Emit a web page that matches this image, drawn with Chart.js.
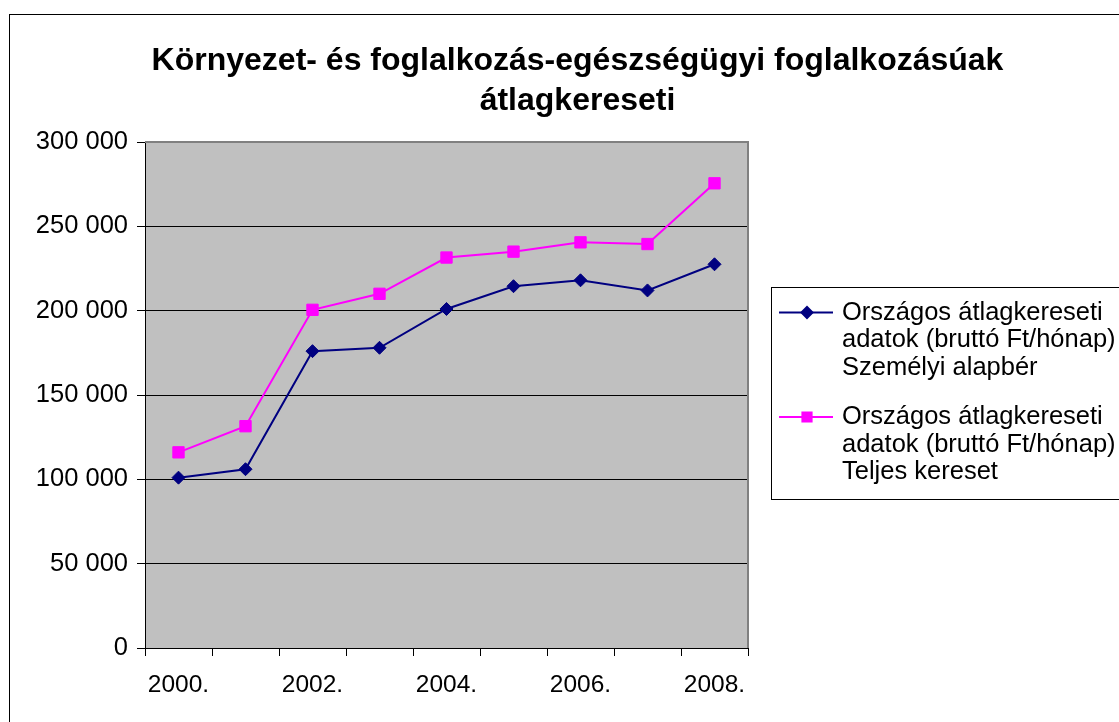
<!DOCTYPE html>
<html>
<head>
<meta charset="utf-8">
<script src="https://cdn.jsdelivr.net/npm/chart.js@4"></script>
<style>
  html, body { margin: 0; padding: 0; background: #fff; overflow: hidden; }
  canvas { display: block; }
</style>
</head>
<body>
<canvas id="chart" width="1119" height="722"></canvas>
<script>
// ---------- Data ----------
const years = ['2000.', '2001.', '2002.', '2003.', '2004.', '2005.', '2006.', '2007.', '2008.'];
const alapber = [101000, 106000, 176000, 178000, 201000, 214500, 218000, 212000, 227500];
const teljesKereset = [116000, 131500, 200500, 210000, 231500, 235000, 240500, 239500, 275500];
const seriesNames = [
    ['Országos átlagkereseti', 'adatok (bruttó Ft/hónap)', 'Személyi alapbér'],
    ['Országos átlagkereseti', 'adatok (bruttó Ft/hónap)', 'Teljes kereset']
];
const titleLines = ['Környezet- és foglalkozás-egészségügyi foglalkozásúak', 'átlagkereseti'];

const FONT = "Arial, 'Liberation Sans', sans-serif";
Chart.defaults.font.family = FONT;
Chart.defaults.color = '#000';

// thousands separated by a space, like "300 000"
function fmt(v) {
    return String(v).replace(/\B(?=(\d{3})+(?!\d))/g, ' ');
}

// ---------- Background, frame and plot area ----------
const framePlugin = {
    id: 'frame',
    beforeDraw(chart) {
        const { ctx, chartArea: a } = chart;
        ctx.save();
        ctx.fillStyle = '#fff';
        ctx.fillRect(0, 0, chart.width, chart.height);
        ctx.strokeStyle = '#000';
        ctx.lineWidth = 1;
        ctx.strokeRect(9.5, 14.5, 2000, 2000);
        ctx.fillStyle = '#c0c0c0';
        ctx.fillRect(a.left, a.top, a.right - a.left, a.bottom - a.top);
        ctx.restore();
    },
    beforeDatasetsDraw(chart) {
        const { ctx, chartArea: a } = chart;
        ctx.save();
        ctx.strokeStyle = '#808080';
        ctx.lineWidth = 2;
        ctx.beginPath();
        ctx.moveTo(a.left, a.top);
        ctx.lineTo(a.right, a.top);
        ctx.lineTo(a.right, a.bottom);
        ctx.stroke();
        ctx.restore();
    }
};

// ---------- Legend drawn on the right, multi-line labels ----------
const legendPlugin = {
    id: 'sideLegend',
    afterDraw(chart) {
        const ctx = chart.ctx;
        const boxLeft = 771.5, boxTop = 287.5, boxBottom = 499.5;
        const itemY = [312.5, 417];
        const lineGap = 27.5;
        ctx.save();
        ctx.strokeStyle = '#000';
        ctx.lineWidth = 1;
        ctx.strokeRect(boxLeft, boxTop, 600, boxBottom - boxTop);

        chart.data.datasets.forEach((ds, i) => {
            const y = itemY[i];
            ctx.strokeStyle = ds.borderColor;
            ctx.lineWidth = 2;
            ctx.beginPath();
            ctx.moveTo(779, y);
            ctx.lineTo(833, y);
            ctx.stroke();
            ctx.fillStyle = ds.backgroundColor;
            Chart.helpers.drawPoint(ctx, {
                pointStyle: ds.pointStyle,
                radius: ds.pointStyle === 'rect' ? 6.5 : 5.5,
                rotation: 0,
                borderWidth: 1
            }, 807, y);

            ctx.fillStyle = '#000';
            ctx.font = '25.5px ' + FONT;
            ctx.textAlign = 'left';
            ctx.textBaseline = 'middle';
            ds.legendLines.forEach((t, k) => ctx.fillText(t, 842, y + k * lineGap));
        });
        ctx.restore();
    }
};

// ---------- Chart ----------
const ctx = document.getElementById('chart').getContext('2d');
new Chart(ctx, {
    type: 'line',
    data: {
        labels: years,
        datasets: [{
            label: seriesNames[0].join(' '),
            legendLines: seriesNames[0],
            data: alapber,
            borderColor: '#000080',
            backgroundColor: '#000080',
            borderWidth: 2,
            pointStyle: 'rectRot',
            pointRadius: 6.5,
            pointBorderWidth: 1,
            tension: 0
        }, {
            label: seriesNames[1].join(' '),
            legendLines: seriesNames[1],
            data: teljesKereset,
            borderColor: '#ff00ff',
            backgroundColor: '#ff00ff',
            borderWidth: 2,
            pointStyle: 'rect',
            pointRadius: 8,
            pointBorderWidth: 1,
            tension: 0
        }]
    },
    options: {
        responsive: false,
        animation: false,
        layout: { padding: { left: 36, right: 0, top: 0, bottom: 0 } },
        plugins: {
            legend: { display: false },
            tooltip: { enabled: false },
            title: {
                display: true,
                text: titleLines,
                color: '#000',
                font: { size: 32, weight: 'bold', lineHeight: 1.25 },
                padding: { top: 41, bottom: 21 }
            }
        },
        scales: {
            x: {
                offset: true,
                grid: {
                    offset: true,
                    drawOnChartArea: false,
                    drawTicks: true,
                    tickLength: 8,
                    color: '#000'
                },
                border: { color: '#000', width: 1 },
                ticks: {
                    autoSkip: false,
                    maxRotation: 0,
                    padding: 15,
                    font: { size: 24.5 },
                    callback: (v, i) => (i % 2 === 0 ? years[i] : '')
                },
                afterFit: s => { s.height = 74; }
            },
            y: {
                min: 0,
                max: 300000,
                grid: { color: '#000', tickLength: 8 },
                border: { color: '#000', width: 1 },
                ticks: {
                    stepSize: 50000,
                    padding: 9,
                    font: { size: 25.5 },
                    callback: v => fmt(v)
                },
                afterFit: s => { s.width = 109; }
            },
            spacer: {
                position: 'right',
                display: true,
                grid: { display: false },
                border: { display: false },
                ticks: { display: false },
                afterFit: s => { s.width = 371; }
            }
        }
    },
    plugins: [framePlugin, legendPlugin]
});
</script>
</body>
</html>
